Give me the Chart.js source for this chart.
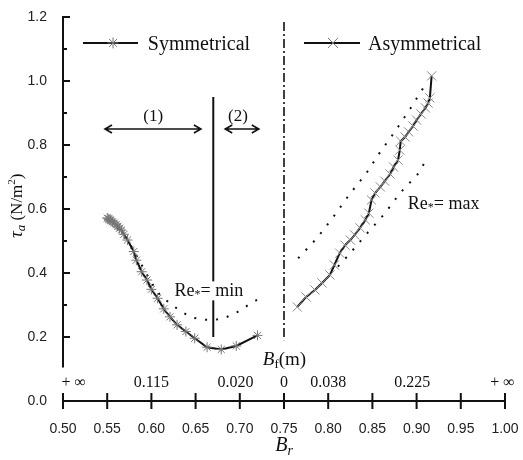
<!DOCTYPE html>
<html lang="en">
<head>
<meta charset="UTF-8">
<title>Shear stress vs Br</title>
<script src="https://cdn.jsdelivr.net/npm/chart.js"></script>
<style>
  body { margin: 0; background: #fff; }
  .chart-container { width: 523px; height: 460px; }
</style>
</head>
<body>
<div class="chart-container"><canvas id="tau-chart"></canvas></div>
<script>
// axis ticks
const xTicks = [0.50, 0.55, 0.60, 0.65, 0.70, 0.75, 0.80, 0.85, 0.90, 0.95, 1.00];
const yTicks = [0.0, 0.2, 0.4, 0.6, 0.8, 1.0, 1.2];
const yMinorTicks = [0.3, 0.5, 0.7, 0.9, 1.1];

// B_f (m) values written above the B_r axis
const bfLabels = ['+ \u221e', '0.115', '0.020', '0', '0.038', '0.225', '+ \u221e'];
const bfAt = [0.512, 0.600, 0.695, 0.750, 0.800, 0.895, 0.997];

// Symmetrical
const symBr = [0.550, 0.551, 0.552, 0.553, 0.554, 0.556, 0.558, 0.560, 0.562, 0.564, 0.566, 0.569, 0.573,
  0.580, 0.583, 0.589, 0.595, 0.600, 0.607, 0.614, 0.621, 0.629, 0.639, 0.649, 0.663, 0.679, 0.696, 0.720];
const symTau = [0.572, 0.570, 0.568, 0.566, 0.564, 0.560, 0.556, 0.551, 0.546, 0.540, 0.534, 0.521, 0.503,
  0.467, 0.440, 0.404, 0.378, 0.349, 0.321, 0.288, 0.263, 0.238, 0.217, 0.196, 0.168, 0.161, 0.172, 0.205];

// Re* = min (dotted)
const minBr = [0.553, 0.565, 0.578, 0.590, 0.600, 0.610, 0.621, 0.634, 0.646, 0.659, 0.671, 0.683, 0.695, 0.708, 0.721];
const minTau = [0.565, 0.530, 0.480, 0.420, 0.370, 0.330, 0.305, 0.279, 0.261, 0.254, 0.253, 0.260, 0.274, 0.297, 0.319];

// Asymmetrical
const asymBr = [0.765, 0.775, 0.785, 0.793, 0.802, 0.807, 0.813, 0.819, 0.825, 0.830, 0.836, 0.842, 0.846,
  0.849, 0.853, 0.859, 0.864, 0.870, 0.874, 0.879, 0.881, 0.882, 0.887, 0.891, 0.896, 0.900, 0.905, 0.910,
  0.913, 0.915, 0.917];
const asymTau = [0.294, 0.325, 0.347, 0.369, 0.394, 0.425, 0.462, 0.487, 0.503, 0.519, 0.541, 0.566, 0.587,
  0.628, 0.650, 0.669, 0.687, 0.709, 0.731, 0.753, 0.784, 0.812, 0.825, 0.841, 0.859, 0.878, 0.897, 0.916,
  0.931, 0.947, 1.016];

// Re* = max (dotted, upper and lower)
const maxUpBr = [0.766, 0.787, 0.806, 0.825, 0.843, 0.859, 0.875, 0.892, 0.908];
const maxUpTau = [0.446, 0.508, 0.576, 0.649, 0.711, 0.779, 0.840, 0.910, 0.980];
const maxLowBr = [0.811, 0.823, 0.844, 0.864, 0.881, 0.902, 0.913];
const maxLowTau = [0.420, 0.456, 0.524, 0.586, 0.649, 0.711, 0.764];

const pts = (xs, ys) => xs.map((v, i) => ({ x: v, y: ys[i] }));

const SERIF = '"Liberation Serif", "Times New Roman", serif';
const SANS = '"Liberation Sans", Arial, sans-serif';

// draw a row of text runs (italic / sub / sup)
function drawRuns(ctx, runs, x, y, align) {
  let total = 0;
  runs.forEach(r => {
    ctx.font = (r.style || '') + ' ' + r.size + 'px ' + SERIF;
    r.w = ctx.measureText(r.t).width;
    total += r.w;
  });
  let cx = align === 'center' ? x - total / 2 : x;
  ctx.textAlign = 'left';
  ctx.textBaseline = 'alphabetic';
  runs.forEach(r => {
    ctx.font = (r.style || '') + ' ' + r.size + 'px ' + SERIF;
    ctx.fillText(r.t, cx, y + (r.dy || 0));
    cx += r.w;
  });
  return total;
}

function drawStar(ctx, x, y, r) {
  for (let k = 0; k < 4; k++) {
    const a = k * Math.PI / 4;
    ctx.beginPath();
    ctx.moveTo(x - r * Math.cos(a), y - r * Math.sin(a));
    ctx.lineTo(x + r * Math.cos(a), y + r * Math.sin(a));
    ctx.stroke();
  }
}

function drawX(ctx, x, y, r) {
  const d = r * Math.SQRT1_2;
  ctx.beginPath();
  ctx.moveTo(x - d, y - d); ctx.lineTo(x + d, y + d);
  ctx.moveTo(x - d, y + d); ctx.lineTo(x + d, y - d);
  ctx.stroke();
}

function arrow(ctx, x1, x2, y) {
  ctx.beginPath();
  ctx.moveTo(x1, y); ctx.lineTo(x2, y);
  ctx.moveTo(x1 + 7, y - 4); ctx.lineTo(x1, y); ctx.lineTo(x1 + 7, y + 4);
  ctx.moveTo(x2 - 7, y - 4); ctx.lineTo(x2, y); ctx.lineTo(x2 - 7, y + 4);
  ctx.stroke();
}

const decorations = {
  id: 'decorations',
  beforeDatasetsDraw(chart) {
    const { ctx, scales: { x, y } } = chart;
    ctx.save();
    ctx.strokeStyle = '#111';
    ctx.fillStyle = '#111';

    // dash-dot divider at Br = 0.75
    ctx.lineWidth = 1.6;
    ctx.setLineDash([9, 3, 2, 3]);
    ctx.beginPath();
    ctx.moveTo(x.getPixelForValue(0.75), y.getPixelForValue(1.184));
    ctx.lineTo(x.getPixelForValue(0.75), y.getPixelForValue(0.19));
    ctx.stroke();
    ctx.setLineDash([]);

    // solid divider between zones (1) and (2)
    ctx.lineWidth = 2;
    ctx.beginPath();
    ctx.moveTo(x.getPixelForValue(0.67), y.getPixelForValue(0.95));
    ctx.lineTo(x.getPixelForValue(0.67), y.getPixelForValue(0.2));
    ctx.stroke();

    // zone arrows
    ctx.lineWidth = 1.6;
    arrow(ctx, x.getPixelForValue(0.5475), x.getPixelForValue(0.656), y.getPixelForValue(0.85));
    arrow(ctx, x.getPixelForValue(0.6835), x.getPixelForValue(0.7215), y.getPixelForValue(0.85));
    drawRuns(ctx, [{ t: '(1)', size: 17 }], x.getPixelForValue(0.602), y.getPixelForValue(0.875), 'center');
    drawRuns(ctx, [{ t: '(2)', size: 17 }], x.getPixelForValue(0.698), y.getPixelForValue(0.875), 'center');

    // Re* = min label (white box hides the divider)
    const lx = x.getPixelForValue(0.665), ly = y.getPixelForValue(0.327);
    ctx.fillStyle = '#fff';
    ctx.fillRect(lx - 39, ly - 15, 78, 19);
    ctx.fillStyle = '#111';
    drawRuns(ctx, [{ t: 'Re', size: 18 }, { t: '*', size: 12, dy: 2 }, { t: '= min', size: 18 }], lx, ly, 'center');
    drawRuns(ctx, [{ t: 'Re', size: 18 }, { t: '*', size: 12, dy: 2 }, { t: '= max', size: 18 }],
      x.getPixelForValue(0.890), y.getPixelForValue(0.600), 'left');

    // B_f (m) labels
    drawRuns(ctx, [{ t: 'B', style: 'italic', size: 19 }, { t: 'f', size: 13, dy: 3 }, { t: '(m)', size: 19 }],
      x.getPixelForValue(0.726), y.getPixelForValue(0.113), 'left');
    bfLabels.forEach((t, i) => {
      drawRuns(ctx, [{ t: t, size: 16 }], x.getPixelForValue(bfAt[i]), y.getPixelForValue(0.043), 'center');
    });

    // legend
    const legY = y.getPixelForValue(1.119);
    ctx.lineWidth = 2;
    ctx.beginPath();
    ctx.moveTo(x.getPixelForValue(0.5226), legY); ctx.lineTo(x.getPixelForValue(0.5848), legY);
    ctx.moveTo(x.getPixelForValue(0.7726), legY); ctx.lineTo(x.getPixelForValue(0.836), legY);
    ctx.stroke();
    ctx.strokeStyle = '#777';
    ctx.lineWidth = 1;
    drawStar(ctx, x.getPixelForValue(0.5566), legY, 5.5);
    drawX(ctx, x.getPixelForValue(0.8054), legY, 7);
    ctx.fillStyle = '#111';
    drawRuns(ctx, [{ t: 'Symmetrical', size: 20 }], x.getPixelForValue(0.596), legY + 7, 'left');
    drawRuns(ctx, [{ t: 'Asymmetrical', size: 20 }], x.getPixelForValue(0.845), legY + 7, 'left');
    ctx.restore();
  },
  afterDraw(chart) {
    const { ctx, chartArea: area, scales: { x, y } } = chart;
    ctx.save();
    ctx.strokeStyle = '#111';
    ctx.fillStyle = '#111';
    ctx.lineWidth = 2;

    // broken y axis: stops above the B_f row
    ctx.beginPath();
    ctx.moveTo(area.left, y.getPixelForValue(1.2) - 1);
    ctx.lineTo(area.left, y.getPixelForValue(0.105));
    yTicks.slice(1).forEach(v => {
      ctx.moveTo(area.left, y.getPixelForValue(v));
      ctx.lineTo(area.left + 7, y.getPixelForValue(v));
    });
    yMinorTicks.forEach(v => {
      ctx.moveTo(area.left, y.getPixelForValue(v));
      ctx.lineTo(area.left + 4, y.getPixelForValue(v));
    });
    // x ticks cross the axis
    xTicks.forEach(v => {
      ctx.moveTo(x.getPixelForValue(v), area.bottom - 8);
      ctx.lineTo(x.getPixelForValue(v), area.bottom + 8);
    });
    ctx.stroke();

    // axis titles
    drawRuns(ctx, [{ t: 'B', style: 'italic', size: 20 }, { t: 'r', style: 'italic', size: 14, dy: 4 }],
      x.getPixelForValue(0.75), 451, 'center');
    ctx.translate(22, y.getPixelForValue(0.61));
    ctx.rotate(-Math.PI / 2);
    drawRuns(ctx, [{ t: '\u03c4', style: 'italic', size: 19 }, { t: 'a', style: 'italic', size: 13, dy: 3 },
      { t: ' (N/m', size: 17 }, { t: '2', size: 11, dy: -7 }, { t: ')', size: 17 }], 0, 0, 'center');
    ctx.restore();
  }
};

new Chart(document.getElementById('tau-chart'), {
  type: 'scatter',
  data: {
    datasets: [
      {
        label: 'Symmetrical',
        data: pts(symBr, symTau),
        showLine: true,
        borderColor: '#111',
        borderWidth: 2,
        pointStyle: 'star',
        pointRadius: 5,
        pointBorderColor: '#777',
        pointBorderWidth: 1,
        pointBackgroundColor: '#777'
      },
      {
        label: 'Re* = min',
        data: pts(minBr, minTau),
        showLine: true,
        borderColor: '#111',
        borderWidth: 2,
        borderDash: [2, 9],
        pointRadius: 0
      },
      {
        label: 'Asymmetrical',
        data: pts(asymBr, asymTau),
        showLine: true,
        borderColor: '#111',
        borderWidth: 2,
        pointStyle: 'crossRot',
        pointRadius: 6.5,
        pointBorderColor: '#8a8a8a',
        pointBorderWidth: 1
      },
      {
        label: 'Re* = max upper',
        data: pts(maxUpBr, maxUpTau),
        showLine: true,
        borderColor: '#111',
        borderWidth: 2,
        borderDash: [2, 9],
        pointRadius: 0
      },
      {
        label: 'Re* = max lower',
        data: pts(maxLowBr, maxLowTau),
        showLine: true,
        borderColor: '#111',
        borderWidth: 2,
        borderDash: [2, 9],
        pointRadius: 0
      }
    ]
  },
  options: {
    responsive: true,
    maintainAspectRatio: false,
    animation: false,
    layout: { padding: { top: 17, right: 18, left: 0, bottom: 0 } },
    plugins: { legend: { display: false }, tooltip: { enabled: false } },
    scales: {
      x: {
        type: 'linear',
        min: 0.5,
        max: 1.0,
        grid: { display: false },
        border: { display: true, color: '#111', width: 2 },
        afterBuildTicks: scale => { scale.ticks = xTicks.map(v => ({ value: v })); },
        afterFit: scale => { scale.height = 59; scale.paddingLeft = 0; scale.paddingRight = 0; },
        ticks: {
          padding: 12,
          color: '#222',
          font: { family: SANS, size: 14 },
          callback: v => v.toFixed(2)
        }
      },
      y: {
        type: 'linear',
        min: 0,
        max: 1.2,
        grid: { display: false },
        border: { display: false },
        afterBuildTicks: scale => { scale.ticks = yTicks.map(v => ({ value: v })); },
        afterFit: scale => { scale.width = 63; scale.paddingTop = 0; scale.paddingBottom = 0; },
        ticks: {
          padding: 8,
          color: '#222',
          font: { family: SANS, size: 14 },
          callback: v => v.toFixed(1)
        }
      }
    }
  },
  plugins: [decorations]
});
</script>
</body>
</html>
